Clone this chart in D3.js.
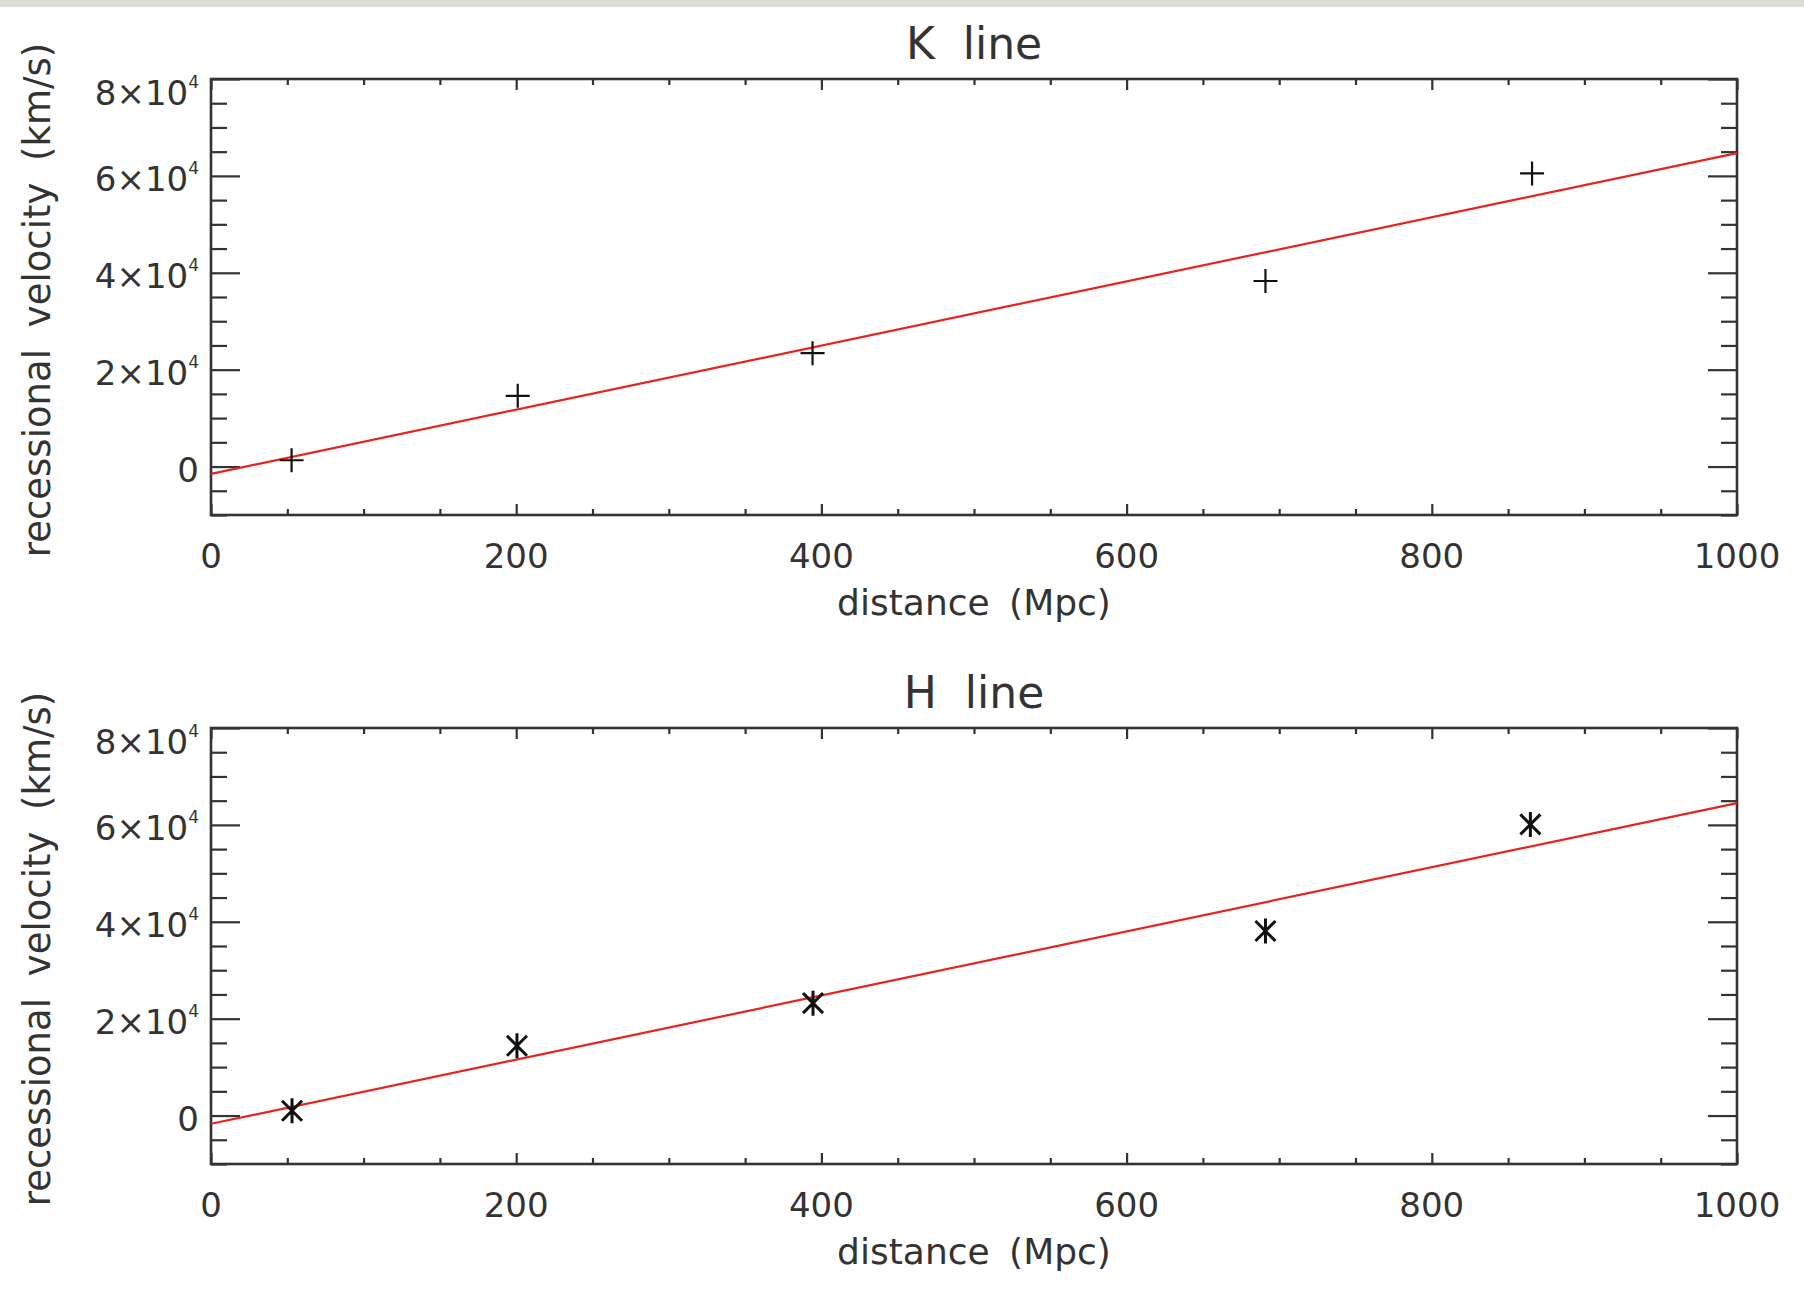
<!DOCTYPE html>
<html>
<head>
<meta charset="utf-8">
<script src="https://cdn.jsdelivr.net/npm/d3@7"></script>
<style>
body { margin: 0; background: #ffffff; }
text { font-family: "DejaVu Sans", sans-serif; fill: #333333; }
</style>
</head>
<body>
<div id="canvas"></div>
<script>
// ----------------------------------------------------------
// DATA -----------------------------------------------------
// ----------------------------------------------------------
var dist_k = [52.8, 201, 394.2, 691, 865.7];
var vel_k = [1300, 14600, 23400, 38300, 60500];
var dist_h = [53.1, 200.5, 394.5, 691, 864.6];
var vel_h = [1000, 14400, 23200, 38100, 60100];
// fitted straight line, read at both ends of the x range
var fit_dist = [0, 1000];
var fit_k = [-1500, 64700];
var fit_h = [-1700, 64500];
// ticks
var x_ticks = [0, 200, 400, 600, 800, 1000];
var x_tick_labels = ["0", "200", "400", "600", "800", "1000"];
var y_ticks = [0, 20000, 40000, 60000, 80000];
var y_tick_mant = ["0", "2\u00d710", "4\u00d710", "6\u00d710", "8\u00d710"];
var y_tick_exp = ["", "4", "4", "4", "4"];
var titles = ["K  line", "H  line"];

// ----------------------------------------------------------
// STRUCTURE ------------------------------------------------
// ----------------------------------------------------------
var W = 1804, H = 1303;
var plot_left = 211, plot_right = 1737;
var panel_tops = [79, 728];
var plot_h = 436;
var color_axis = "#333333";
var color_fit = "#e8221c";

var svg = d3.select("#canvas").append("svg")
.attr("width", W)
.attr("height", H)
.style("display", "block")
.style("background-color", "#ffffff");

// light grey strip at the very top
svg.append("rect")
.attr("x", 0).attr("y", 0)
.attr("width", W).attr("height", 7)
.style("fill", "#dddcd7");

var xScale = d3.scaleLinear()
.domain([0, 1000])
.range([plot_left, plot_right]);

var x_minor = d3.range(0, 1001, 50).filter(function(d) { return d % 200 != 0; });
var y_minor = d3.range(-10000, 80001, 5000).filter(function(d) { return d % 20000 != 0; });

// ----------------------------------------------------------
// GFX ------------------------------------------------------
// ----------------------------------------------------------
function drawPanel(top, title, dist, vel, fit, marker) {
var bottom = top + plot_h;
var g = svg.append("g");

var yScale = d3.scaleLinear()
.domain([-10000, 80000])
.range([bottom, top]);

// axes: majors and minors on all four sides, ticks inward
function styleAxis(a) {
a.select(".domain").remove();
a.selectAll(".tick line").attr("stroke", color_axis).attr("stroke-width", 2.2);
a.selectAll(".tick text").remove();
}
var axes = [
[d3.axisBottom, xScale, bottom, true, 11, 6],
[d3.axisTop, xScale, top, true, 11, 6],
[d3.axisLeft, yScale, plot_left, false, 29, 16],
[d3.axisRight, yScale, plot_right, false, 29, 16]
];
axes.forEach(function(a) {
var majors = a[3] ? x_ticks : y_ticks;
var minors = a[3] ? x_minor : y_minor;
var tr = a[3] ? "translate(0," + a[2] + ")" : "translate(" + a[2] + ",0)";
g.append("g").attr("transform", tr)
.call(a[0](a[1]).tickValues(majors).tickSize(-a[4]).tickSizeOuter(0))
.call(styleAxis);
g.append("g").attr("transform", tr)
.call(a[0](a[1]).tickValues(minors).tickSize(-a[5]).tickSizeOuter(0))
.call(styleAxis);
});

// frame
g.append("rect")
.attr("x", plot_left)
.attr("y", top)
.attr("width", plot_right - plot_left)
.attr("height", plot_h)
.style("fill", "none")
.style("stroke", color_axis)
.style("stroke-width", 2.6);

// fit line
g.append("line")
.attr("x1", xScale(fit_dist[0]))
.attr("y1", yScale(fit[0]))
.attr("x2", xScale(fit_dist[1]))
.attr("y2", yScale(fit[1]))
.attr("stroke", color_fit)
.attr("stroke-width", 2.2);

// points
var pts = dist.map(function(d, i) { return { x: d, y: vel[i] }; });
var path_d = marker == "plus"
? "M-12,0H12M0,-12V12"
: "M0,-12.5V12.5M-10,-10L10,10M-10,10L10,-10";
g.selectAll(".pt")
.data(pts)
.enter()
.append("path")
.attr("class", "pt")
.attr("transform", function(d) { return "translate(" + xScale(d.x) + "," + yScale(d.y) + ")"; })
.attr("d", path_d)
.attr("stroke", "#111111")
.attr("stroke-width", marker == "plus" ? 2.2 : 3)
.attr("fill", "none");

// ----------------------------------------------------------
// TEXT -----------------------------------------------------
// ----------------------------------------------------------
g.append("text")
.attr("x", (plot_left + plot_right) / 2)
.attr("y", top - 20)
.attr("text-anchor", "middle")
.style("font-size", "44px")
.style("white-space", "pre")
.text(title);

g.selectAll(".xlab")
.data(x_ticks)
.enter()
.append("text")
.attr("class", "xlab")
.attr("x", function(d) { return xScale(d); })
.attr("y", bottom + 53)
.attr("text-anchor", "middle")
.style("font-size", "34px")
.text(function(d, i) { return x_tick_labels[i]; });

g.append("text")
.attr("x", (plot_left + plot_right) / 2)
.attr("y", bottom + 100)
.attr("text-anchor", "middle")
.style("font-size", "36px")
.style("word-spacing", "8px")
.text("distance (Mpc)");

var ylab = g.selectAll(".ylab")
.data(y_ticks)
.enter()
.append("text")
.attr("class", "ylab")
.attr("x", 199)
.attr("y", function(d) { return Math.max(yScale(d) + 15, top + 26); })
.attr("text-anchor", "end")
.style("font-size", "34px");
ylab.append("tspan")
.text(function(d, i) { return y_tick_mant[i]; });
ylab.append("tspan")
.attr("dy", -17)
.style("font-size", "17px")
.text(function(d, i) { return y_tick_exp[i]; });

g.append("text")
.attr("transform", "translate(50," + (top + plot_h / 2 + 3) + ") rotate(-90)")
.attr("text-anchor", "middle")
.style("font-size", "37px")
.style("word-spacing", "10px")
.text("recessional velocity (km/s)");
}

drawPanel(panel_tops[0], titles[0], dist_k, vel_k, fit_k, "plus");
drawPanel(panel_tops[1], titles[1], dist_h, vel_h, fit_h, "star");
</script>
</body>
</html>
